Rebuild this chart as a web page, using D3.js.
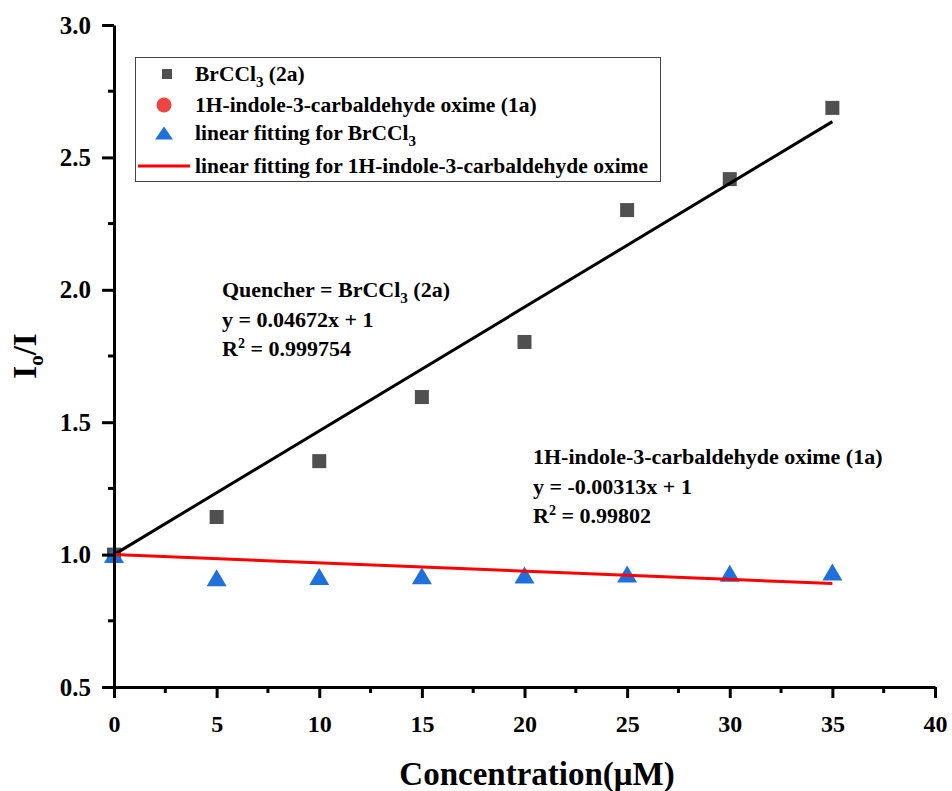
<!DOCTYPE html>
<html>
<head>
<meta charset="utf-8">
<script src="https://cdn.jsdelivr.net/npm/d3@7"></script>
<style>
  body { margin: 0; background: #fff; }
  svg { display: block; font-family: "Liberation Serif", "Times New Roman", serif; font-weight: bold; }
</style>
</head>
<body>
<div id="chart"></div>
<script>
// datos
const concentrations = [0, 5, 10, 15, 20, 25, 30, 35];
const brccl3 = [1.0, 1.142, 1.353, 1.595, 1.803, 2.301, 2.418, 2.687];
const indole = [1.0, 0.913, 0.917, 0.92, 0.923, 0.927, 0.93, 0.934];
const fitBr = { slope: 0.04672, intercept: 1 };
const fitIn = { slope: -0.00313, intercept: 1 };
const xTicks = [0, 5, 10, 15, 20, 25, 30, 35, 40];
const yTicks = [0.5, 1.0, 1.5, 2.0, 2.5, 3.0];
const legendLabels = [
  "BrCCl|3| (2a)",
  "1H-indole-3-carbaldehyde oxime (1a)",
  "linear fitting for BrCCl|3|",
  "linear fitting for 1H-indole-3-carbaldehyde oxime"
];

const width = 952, height = 791;
const marginLeft = 114, marginRight = 17, marginTop = 25, marginBottom = 104;

const svg = d3.select("#chart").append("svg")
    .attr("width", width)
    .attr("height", height);

const x = d3.scaleLinear().domain([0, 40]).range([marginLeft, width - marginRight]);
const y = d3.scaleLinear().domain([0.5, 3.0]).range([height - marginBottom, marginTop]);

// rectas de ajuste y marcadores
const sq = 14;
svg.append("g").selectAll("rect")
  .data(concentrations)
  .join("rect")
    .attr("x", (d) => x(d) - sq / 2)
    .attr("y", (d, i) => y(brccl3[i]) - sq / 2)
    .attr("width", sq).attr("height", sq)
    .attr("fill", "#505050");

// triangulo centrado en su caja
const triPath = (w, h) => `M0,${-h / 2}L${w / 2},${h / 2}L${-w / 2},${h / 2}Z`;
svg.append("g").selectAll("path")
  .data(concentrations)
  .join("path")
    .attr("d", triPath(20, 17))
    .attr("transform", (d, i) => `translate(${x(d)},${y(indole[i])})`)
    .attr("fill", "#1f6fdc");

svg.append("line")
    .attr("x1", x(0)).attr("y1", y(fitBr.intercept))
    .attr("x2", x(35)).attr("y2", y(fitBr.intercept + fitBr.slope * 35))
    .attr("stroke", "#000").attr("stroke-width", 3);

svg.append("line")
    .attr("x1", x(0)).attr("y1", y(fitIn.intercept))
    .attr("x2", x(35)).attr("y2", y(fitIn.intercept + fitIn.slope * 35))
    .attr("stroke", "#ff0000").attr("stroke-width", 3);

// ejes
const xAxis = svg.append("g")
    .attr("transform", `translate(0,${y(0.5)})`)
    .call(d3.axisBottom(x).tickValues(xTicks).tickSize(11).tickSizeOuter(0).tickPadding(17));
xAxis.selectAll(".tick line").attr("stroke-width", 3);
xAxis.select(".domain").attr("stroke-width", 3);
xAxis.selectAll("text").attr("font-size", 24).attr("font-family", "Liberation Serif").attr("font-weight", "bold");

xAxis.selectAll(".minor")
  .data(d3.range(2.5, 40, 5))
  .join("line")
    .attr("x1", d => x(d)).attr("x2", d => x(d))
    .attr("y1", 0).attr("y2", 6)
    .attr("stroke", "#000").attr("stroke-width", 3);

const yAxis = svg.append("g")
    .attr("transform", `translate(${marginLeft},0)`)
    .call(d3.axisLeft(y).tickValues(yTicks).tickFormat(d3.format(".1f")).tickSize(12).tickSizeOuter(0).tickPadding(11));
yAxis.selectAll(".tick line").attr("stroke-width", 3);
yAxis.select(".domain").attr("stroke-width", 3);
yAxis.selectAll("text").attr("font-size", 25).attr("font-family", "Liberation Serif").attr("font-weight", "bold");

yAxis.selectAll(".minor")
  .data(d3.range(0.75, 3.0, 0.5))
  .join("line")
    .attr("x1", 0).attr("x2", -6)
    .attr("y1", d => y(d)).attr("y2", d => y(d))
    .attr("stroke", "#000").attr("stroke-width", 3);

// titulos
svg.append("text")
    .attr("x", 537).attr("y", 785)
    .attr("text-anchor", "middle")
    .attr("font-size", 33)
    .text("Concentration(μM)");

const yTitle = svg.append("text")
    .attr("transform", `translate(36,356) rotate(-90)`)
    .attr("text-anchor", "middle")
    .attr("font-size", 33);
yTitle.append("tspan").text("I");
yTitle.append("tspan").attr("font-size", 21).attr("dy", 7).text("o");
yTitle.append("tspan").attr("dy", -7).text("/I");

// texto con subindices marcados |n|
function richText(sel, str, subSize) {
  str.split("|").forEach((part, i) => {
    if (!part) return;
    if (i % 2 === 1) {
      sel.append("tspan").attr("font-size", subSize).attr("dy", 6).text(part);
    } else {
      sel.append("tspan").attr("dy", i > 0 ? -6 : 0).text(part);
    }
  });
}

// leyenda
const legend = svg.append("g");
legend.append("rect")
    .attr("x", 135.5).attr("y", 57.5)
    .attr("width", 525).attr("height", 124)
    .attr("fill", "#fff").attr("stroke", "#444").attr("stroke-width", 1);

const legY = [74, 105, 133, 166];
legend.append("rect").attr("x", 162).attr("y", legY[0] - 5).attr("width", 10).attr("height", 10).attr("fill", "#505050");
legend.append("circle").attr("cx", 164).attr("cy", legY[1]).attr("r", 7.5).attr("fill", "#ef4444");
legend.append("path").attr("d", triPath(18, 13)).attr("transform", `translate(164,${legY[2]})`).attr("fill", "#1f6fdc");
legend.append("line").attr("x1", 138).attr("x2", 190).attr("y1", legY[3]).attr("y2", legY[3]).attr("stroke", "#ff0000").attr("stroke-width", 3);

legendLabels.forEach((lab, i) => {
  const t = legend.append("text")
      .attr("x", 195).attr("y", legY[i] + 7)
      .attr("font-size", 21.5);
  richText(t, lab, 15);
});

// anotaciones
const notes = [
  { x: 222, y: 297, lines: ["Quencher = BrCCl|3| (2a)", "y = 0.04672x + 1", "R²"] },
  { x: 533, y: 464, lines: ["1H-indole-3-carbaldehyde oxime (1a)", "y = -0.00313x + 1", "R²"] }
];
const r2 = ["0.999754", "0.99802"];
notes.forEach((n, k) => {
  n.lines.forEach((ln, i) => {
    const t = svg.append("text")
        .attr("x", n.x).attr("y", n.y + i * 29.5)
        .attr("font-size", 22);
    if (ln === "R²") {
      t.append("tspan").text("R");
      t.append("tspan").attr("font-size", 14).attr("dy", -8).text("2");
      t.append("tspan").attr("dy", 8).text(" = " + r2[k]);
    } else {
      richText(t, ln, 15);
    }
  });
});
</script>
</body>
</html>
